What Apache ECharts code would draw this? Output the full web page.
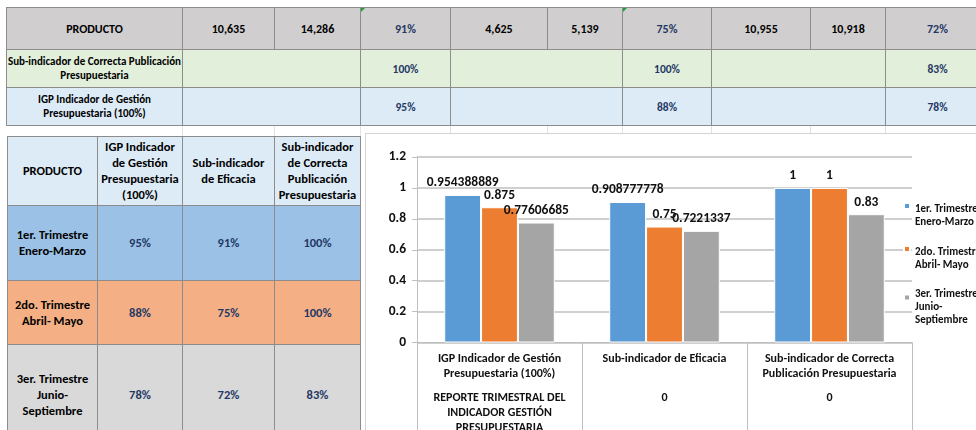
<!DOCTYPE html>
<html>
<head>
<meta charset="utf-8">
<script src="https://cdn.jsdelivr.net/npm/echarts@6/dist/echarts.min.js"></script>
<style>
  html, body { margin: 0; padding: 0; width: 976px; height: 430px; overflow: hidden; background: #fff; }
  body { position: relative; font-family: Carlito, Lato, sans-serif; font-weight: bold; color: #000; }
  .c { position: absolute; box-sizing: border-box; display: flex; align-items: center; justify-content: center;
       text-align: center; border-right: 1px solid #8c8c8c; border-bottom: 1px solid #8c8c8c; white-space: pre-line; }
  .pct { color: #1f3864; }
  .gl { position: absolute; width: 1px; background: #e2e2e2; }
  .flag { position: absolute; width: 0; height: 0; border-top: 4px solid #1e9e3e; border-right: 4px solid transparent; }
  #box { position: absolute; left: 365px; top: 133px; width: 640px; height: 320px; border: 1px solid #d4d4d4; box-sizing: border-box; background: #fff; }
  #chart { position: absolute; left: 366px; top: 134px; width: 620px; height: 300px; }
</style>
</head>
<body>
<div id="sheet"></div>
<div id="box"></div>
<div id="chart"></div>
<script>
// hoja de calculo (tablas)
const topCols = [6, 183, 275, 361, 451, 548, 623, 712, 811, 886, 990];
const topRows = [7, 50, 88, 126];
const topRow1 = ['PRODUCTO', '10,635', '14,286', '91%', '4,625', '5,139', '75%', '10,955', '10,918', '72%'];
const topRow2Label = 'Sub-indicador de Correcta Publicación\nPresupuestaria';
const topRow2 = ['100%', '100%', '83%'];
const topRow3Label = 'IGP Indicador de Gestión\nPresupuestaria (100%)';
const topRow3 = ['95%', '88%', '78%'];

const lowCols = [7, 98, 183, 275, 361];
const lowRows = [136, 206, 281, 345, 445];
const lowHeader = ['PRODUCTO', 'IGP Indicador\nde Gestión\nPresupuestaria\n(100%)', 'Sub-indicador\nde Eficacia', 'Sub-indicador\nde Correcta\nPublicación\nPresupuestaria'];
const lowRowLabels = ['1er. Trimestre\nEnero-Marzo', '2do. Trimestre\nAbril- Mayo', '3er. Trimestre\nJunio-\nSeptiembre'];
const lowIgp = ['95%', '88%', '78%'];
const lowEficacia = ['91%', '75%', '72%'];
const lowPublicacion = ['100%', '100%', '83%'];

// grafico
const categories = ['IGP Indicador de Gestión\nPresupuestaria (100%)', 'Sub-indicador de Eficacia', 'Sub-indicador de Correcta\nPublicación Presupuestaria'];
const outerLabels = ['REPORTE TRIMESTRAL DEL\nINDICADOR GESTIÓN\nPRESUPUESTARIA', '0', '0'];
const seriesNames = ['1er. Trimestre\nEnero-Marzo', '2do. Trimestre\nAbril- Mayo', '3er. Trimestre\nJunio-\nSeptiembre'];
const trimestre1 = [0.954388889, 0.908777778, 1];
const trimestre2 = [0.875, 0.75, 1];
const trimestre3 = [0.77606685, 0.7221337, 0.83];
const yMin = 0, yMax = 1.2, yStep = 0.2;

const sheet = document.getElementById('sheet');
function cell(x0, x1, y0, y1, text, opts) {
  const d = document.createElement('div');
  d.className = 'c' + (opts.pct ? ' pct' : '');
  d.style.left = x0 + 'px'; d.style.top = y0 + 'px';
  d.style.width = (x1 - x0) + 'px'; d.style.height = (y1 - y0) + 'px';
  d.style.background = opts.bg;
  d.style.fontSize = (opts.size || 11) + 'px';
  d.style.lineHeight = (opts.lh || 14) + 'px';
  if (opts.left) { d.style.borderLeft = '1px solid #8c8c8c'; }
  if (opts.top) { d.style.borderTop = '1px solid #8c8c8c'; }
  d.textContent = text;
  sheet.appendChild(d);
}

// lineas de cuadricula en la fila vacia
[183, 275, 361, 451, 548, 623, 712, 811, 886].forEach(x => {
  const g = document.createElement('div');
  g.className = 'gl';
  g.style.left = (x - 1) + 'px'; g.style.top = '126px'; g.style.height = '10px';
  sheet.appendChild(g);
});

// tabla superior
topRow1.forEach((t, i) => {
  cell(topCols[i], topCols[i + 1], topRows[0], topRows[1], t,
    { bg: '#d0cece', size: 12, pct: t.indexOf('%') > 0, left: i === 0, top: true });
});
const mergedCols = [[183, 361], [451, 623], [712, 886]];
const pctCols = [[361, 451], [623, 712], [886, 990]];
[[topRow2Label, topRow2, '#e2efda', 1], [topRow3Label, topRow3, '#ddebf7', 2]].forEach(([label, vals, bg, r]) => {
  cell(6, 183, topRows[r], topRows[r + 1], label, { bg: bg, size: 11, lh: 14, left: true });
  mergedCols.forEach((m, k) => {
    cell(m[0], m[1], topRows[r], topRows[r + 1], '', { bg: bg });
    cell(pctCols[k][0], pctCols[k][1], topRows[r], topRows[r + 1], vals[k], { bg: bg, size: 11.5, pct: true });
  });
});
// indicadores verdes de Excel
[361, 623].forEach(x => {
  const f = document.createElement('div');
  f.className = 'flag';
  f.style.left = x + 'px'; f.style.top = '8px';
  sheet.appendChild(f);
});

// tabla inferior
lowHeader.forEach((t, i) => {
  cell(lowCols[i], lowCols[i + 1], lowRows[0], lowRows[1], t, { bg: '#ddebf7', size: 12.5, lh: 16, left: i === 0, top: true });
});
const rowBg = ['#9bc2e6', '#f4b084', '#d9d9d9'];
lowRowLabels.forEach((t, r) => {
  const y0 = lowRows[r + 1], y1 = lowRows[r + 2];
  cell(lowCols[0], lowCols[1], y0, y1, t, { bg: rowBg[r], size: 12.5, lh: 16, left: true });
  [lowIgp, lowEficacia, lowPublicacion].forEach((col, k) => {
    cell(lowCols[k + 1], lowCols[k + 2], y0, y1, col[r], { bg: rowBg[r], size: 12.5, pct: true });
  });
});

const chart = echarts.init(document.getElementById('chart'));
const txt = '#111';
const gridColor = '#bfbfbf';
const font = 'Carlito';
const barLabel = { show: true, position: 'top', distance: 5, fontSize: 13.5, fontWeight: 'bold', color: txt, fontFamily: font };
const legendIcon = 'path://M0,0h6v6h-6zM6,26';

const option = {
  animation: false,
  textStyle: { fontFamily: font },
  grid: { left: 51, top: 23, width: 495, height: 186 },
  legend: {
    orient: 'vertical',
    left: 537,
    top: 68,
    padding: 0,
    itemWidth: 6,
    itemHeight: 26,
    itemGap: 15,
    icon: legendIcon,
    textStyle: { fontSize: 11, fontWeight: 'bold', lineHeight: 13, color: txt, fontFamily: font },
    data: seriesNames
  },
  xAxis: {
    type: 'category',
    data: categories,
    axisLine: { lineStyle: { color: gridColor, width: 1 } },
    axisTick: { show: true, interval: 0, length: 95, lineStyle: { color: gridColor } },
    axisLabel: {
      interval: 0,
      margin: 9,
      formatter: function (value, idx) {
        const lines = value.split('\n');
        while (lines.length < 2) lines.push(' ');
        const outer = outerLabels[idx].split('\n').map(l => '{b|' + l + '}');
        return lines.map(l => '{a|' + l + '}').join('\n') + '\n{g| }\n' + outer.join('\n');
      },
      rich: {
        a: { fontSize: 12, fontWeight: 'bold', lineHeight: 15, color: txt, fontFamily: font },
        g: { fontSize: 6, lineHeight: 9 },
        b: { fontSize: 12, fontWeight: 'bold', lineHeight: 15, color: txt, fontFamily: font }
      }
    }
  },
  yAxis: {
    type: 'value',
    min: yMin,
    max: yMax,
    interval: yStep,
    axisLine: { show: true, lineStyle: { color: gridColor } },
    axisTick: { show: true, length: 5, lineStyle: { color: gridColor } },
    axisLabel: { fontSize: 13.5, fontWeight: 'bold', color: txt, margin: 11, fontFamily: font },
    splitLine: { lineStyle: { color: gridColor, width: 1.5 } }
  },
  series: [trimestre1, trimestre2, trimestre3].map((d, i) => ({
    name: seriesNames[i],
    type: 'bar',
    data: d,
    barGap: '0%',
    barCategoryGap: '33%',
    itemStyle: { color: ['#5b9bd5', '#ed7d31', '#a5a5a5'][i], borderColor: '#fff', borderWidth: 1 },
    label: barLabel
  }))
};
chart.setOption(option);
</script>
</body>
</html>
